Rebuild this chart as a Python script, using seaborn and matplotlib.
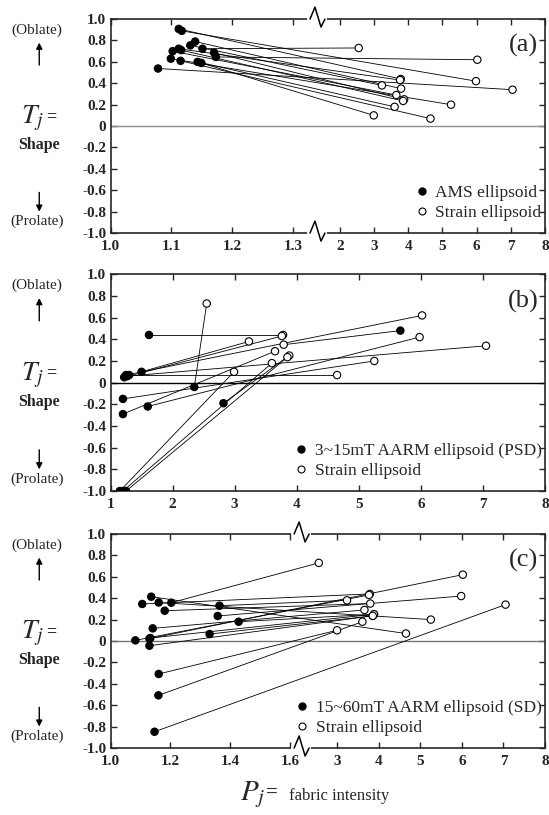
import numpy as np
import pandas as pd
import matplotlib
matplotlib.use("Agg")
import matplotlib.pyplot as plt
import seaborn as sns
from matplotlib.lines import Line2D
from matplotlib.transforms import blended_transform_factory

# --- strain ellipsoid (same samples in every panel) ---
strain_pj = [2.55, 3.78, 3.23, 3.79, 3.65, 3.60, 3.88, 3.85, 2.99, 4.65, 5.25, 6.02, 5.98, 7.05, 3.76]
strain_tj = [0.73, 0.44, 0.38, 0.35, 0.29, 0.18, 0.25, 0.235, 0.10, 0.07, 0.20, 0.62, 0.42, 0.34, 0.43]

# --- (a) AMS ellipsoid ---
ams_pj = [1.151, 1.112, 1.131, 1.139, 1.102, 1.143, 1.170, 1.116, 1.149, 1.115, 1.099, 1.173, 1.117, 1.078, 1.112]
ams_tj = [0.723, 0.908, 0.754, 0.790, 0.700, 0.600, 0.686, 0.710, 0.590, 0.610, 0.630, 0.646, 0.890, 0.538, 0.723]
ams_pair = [0, 1, 2, 3, 4, 5, 6, 7, 8, 9, 10, 11, 12, 13, 14]

# --- (b) 3~15mT AARM ellipsoid (PSD) ---
psd_pj = [2.35, 1.62, 1.50, 5.67, 1.20, 1.20, 2.82, 1.25, 1.15, 1.30, 1.20, 1.25, 1.60, 1.27, 1.22]
psd_tj = [-0.04, 0.44, 0.10, 0.48, -0.29, -1.0, -0.19, -1.0, -1.0, 0.07, -0.15, 0.07, -0.22, 0.06, 0.05]
psd_pair = [0, 1, 2, 3, 4, 5, 6, 7, 8, 9, 10, 11, 12, 13, 14]

# --- (c) 15~60mT AARM ellipsoid (SD) ---
sd_pj = [1.203, 1.106, 1.364, 1.181, 1.141, 1.160, 1.428, 1.331, 1.161, 1.136, 1.161, 1.130, 1.358, 1.147, 1.083, 1.133, 1.130]
sd_tj = [0.358, 0.346, 0.330, 0.283, 0.118, -0.508, 0.180, 0.065, -0.308, 0.414, 0.360, 0.022, 0.234, -0.848, 0.006, 0.028, -0.044]
sd_pair = [0, 1, 2, 3, 4, 5, 6, 7, 8, 9, 10, 11, 12, 13, 14, 6, 7]

# ticks
y_ticks = [1.0, 0.8, 0.6, 0.4, 0.2, 0.0, -0.2, -0.4, -0.6, -0.8, -1.0]
y_labels = ["1.0", "0.8", "0.6", "0.4", "0.2", "0", "-0.2", "-0.4", "-0.6", "-0.8", "-1.0"]
xt_a = [1.0, 1.1, 1.2, 1.3, 2, 3, 4, 5, 6, 7, 8]
xl_a = ["1.0", "1.1", "1.2", "1.3", "2", "3", "4", "5", "6", "7", "8"]
xt_b = [1, 2, 3, 4, 5, 6, 7, 8]
xl_b = ["1", "2", "3", "4", "5", "6", "7", "8"]
xt_c = [1.0, 1.2, 1.4, 1.6, 3, 4, 5, 6, 7, 8]
xl_c = ["1.0", "1.2", "1.4", "1.6", "3", "4", "5", "6", "7", "8"]

# broken x axis: piecewise linear mapping (value -> axes fraction)
knots_a = ([1.0, 1.3406, 2.0, 8.0], [0.0, 0.4775, 0.528, 1.0])
knots_c = ([1.0, 1.64, 2.19, 8.0], [0.0, 0.441, 0.445, 1.0])

sns.set_style("ticks")
plt.rcParams["font.family"] = ["Liberation Serif", "DejaVu Serif"]
plt.rcParams["mathtext.fontset"] = "stix"
plt.rcParams["axes.unicode_minus"] = False

fig = plt.figure(figsize=(5.49, 8.15), dpi=100)
ax_a = fig.add_axes([0.2013, 0.714, 0.7914, 0.2626])
ax_b = fig.add_axes([0.2013, 0.3975, 0.7914, 0.266])
ax_c = fig.add_axes([0.2013, 0.0822, 0.7914, 0.2626])


def zigzag(ax, xf):
    # break symbol on top and bottom spine
    w, h = 434.5, 215.0
    for y0 in (0.0, 1.0):
        ax.plot([xf - 9 / w, xf + 7 / w], [y0, y0], color="white", lw=3,
                transform=ax.transAxes, clip_on=False, zorder=10)
        xs = [xf - 8 / w, xf - 3 / w, xf + 3 / w, xf + 7 / w]
        ys = [y0, y0 + 12 / h, y0 - 8 / h, y0]
        ax.plot(xs, ys, color="k", lw=1.1, transform=ax.transAxes,
                clip_on=False, zorder=11)


def panel(ax, pj, tj, pair, name, tag, xt, xl, knots, zero_color):
    rows = []
    for i, (x, y, k) in enumerate(zip(pj, tj, pair)):
        rows.append((i, x, y, "mag"))
        rows.append((i, strain_pj[k], strain_tj[k], "strain"))
    df = pd.DataFrame(rows, columns=["sample", "Pj", "Tj", "kind"])

    ax.axhline(0, color=zero_color, lw=1.0, zorder=1)
    sns.lineplot(data=df, x="Pj", y="Tj", units="sample", estimator=None,
                 sort=False, color="k", lw=0.6, ax=ax, legend=False, zorder=2)
    sns.scatterplot(data=df, x="Pj", y="Tj", hue="kind",
                    palette={"mag": "black", "strain": "white"},
                    edgecolor="black", linewidth=0.8, s=28, ax=ax,
                    legend=False, zorder=3)

    if knots is not None:
        kx, kf = knots
        ax.set_xscale("function", functions=(lambda v: np.interp(v, kx, kf),
                                             lambda v: np.interp(v, kf, kx)))
        zigzag(ax, kf[1])
    ax.set_xlim(1, 8)
    ax.set_ylim(-1, 1)
    ax.set_xticks(xt)
    ax.set_xticklabels(xl, fontweight="bold")
    ax.set_yticks(y_ticks)
    ax.set_yticklabels(y_labels, fontweight="bold")
    ax.minorticks_off()
    ax.set_xlabel("")
    ax.set_ylabel("")
    ax.tick_params(direction="in", top=True, right=True, length=4, width=1,
                   labelsize=11)
    ax.tick_params(axis="x", pad=5)
    ax.tick_params(axis="y", pad=3)
    for s in ax.spines.values():
        s.set_linewidth(1.2)
        s.set_visible(True)

    ax.text(0.985, 0.875, tag, transform=ax.transAxes, ha="right",
            va="center", fontsize=19)

    handles = [Line2D([], [], marker="o", ls="", mfc="k", mec="k", ms=5),
               Line2D([], [], marker="o", ls="", mfc="w", mec="k", ms=5, mew=0.8)]
    ax.legend(handles, [name, "Strain ellipsoid"], loc="lower right",
              bbox_to_anchor=(1.0, 0.04), frameon=False, fontsize=12.5,
              handlelength=1.0, handletextpad=0.3, labelspacing=0.2,
              borderaxespad=0.0, borderpad=0.2)

    # left side labels
    tr = blended_transform_factory(ax.transAxes, ax.transData)
    ax.text(-0.169, 0.897, "(Oblate)", transform=tr, ha="center", va="center",
            fontsize=11)
    ax.text(-0.169, -0.894, "(Prolate)", transform=tr, ha="center", va="center",
            fontsize=11)
    ax.annotate("", xy=(-0.164, 0.78), xycoords=tr, xytext=(-0.164, 0.57),
                textcoords=tr, annotation_clip=False,
                arrowprops=dict(arrowstyle="-|>", color="k", lw=1,
                                mutation_scale=9, shrinkA=0, shrinkB=0))
    ax.annotate("", xy=(-0.164, -0.80), xycoords=tr, xytext=(-0.164, -0.62),
                textcoords=tr, annotation_clip=False,
                arrowprops=dict(arrowstyle="-|>", color="k", lw=1,
                                mutation_scale=9, shrinkA=0, shrinkB=0))
    ax.text(-0.180, 0.07, r"$T_j$", transform=tr, ha="center", va="center",
            fontsize=20)
    ax.text(-0.137, 0.09, "=", transform=tr, ha="center", va="center",
            fontsize=13, fontweight="bold")
    ax.text(-0.164, -0.175, "Shape", transform=tr, ha="center", va="center",
            fontsize=11.5, fontweight="bold")


panel(ax_a, ams_pj, ams_tj, ams_pair, "AMS ellipsoid", "(a)", xt_a, xl_a,
      knots_a, "0.55")
panel(ax_b, psd_pj, psd_tj, psd_pair, "3~15mT AARM ellipsoid (PSD)", "(b)",
      xt_b, xl_b, None, "black")
panel(ax_c, sd_pj, sd_tj, sd_pair, "15~60mT AARM ellipsoid (SD)", "(c)",
      xt_c, xl_c, knots_c, "0.45")

# bottom axis title
fig.text(253 / 549, 1 - 795 / 815, r"$P_j$", ha="center", va="center", fontsize=21)
fig.text(272 / 549, 1 - 793 / 815, "=", ha="center", va="center", fontsize=15,
         fontweight="bold")
fig.text(289 / 549, 1 - 796 / 815, "fabric intensity", ha="left", va="center",
         fontsize=12)

fig.savefig("out.png", dpi=100)
